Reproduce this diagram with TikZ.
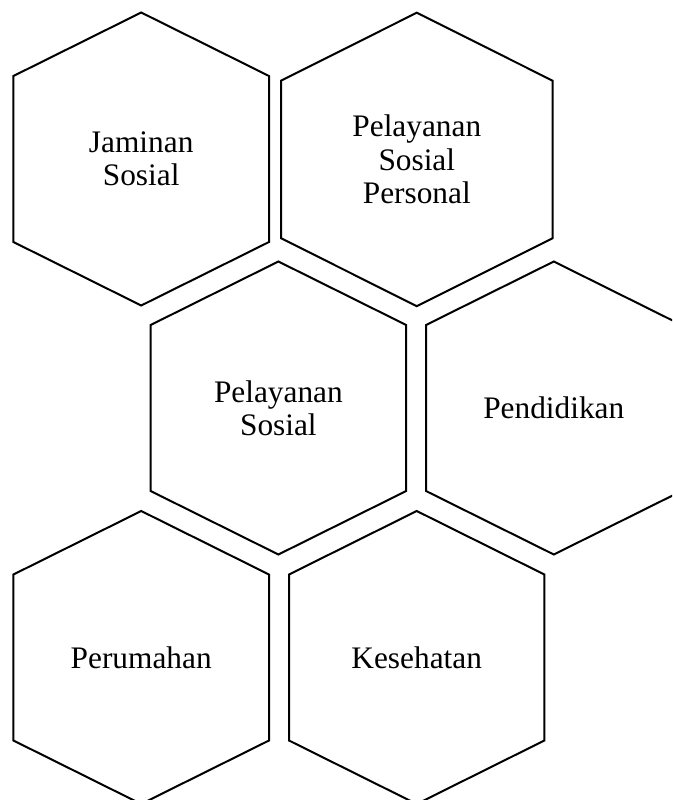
\documentclass[tikz,border=0pt]{standalone}
\usepackage{fontspec}
\setmainfont{Liberation Serif}
\tikzset{
  hexline/.style={draw=black, line width=1.5pt, line join=miter},
  hextext/.style={align=center, inner sep=0pt, font=\fontsize{23.5}{25}\selectfont, text=black}
}
\newcommand{\hexcell}[7]{%
  \draw[hexline] (#2,#3) -- ({#2+#4},{#3+#5}) -- ({#2+#4},{#3+#6-#5}) -- (#2,{#3+#6})
    -- ({#2-#4},{#3+#6-#5}) -- ({#2-#4},{#3+#5}) -- cycle;
  \node[hextext] (#1) at (#2,{#3+#6/2}) {#7};
}
\begin{document}
\begin{tikzpicture}[x=0.75pt, y=-0.75pt]
  \useasboundingbox (0,0) rectangle (672,800);
  \fill[white] (0,0) rectangle (672,800);
  \clip (0,0) rectangle (672,800);
  \hexcell{jaminan}{141.2}{12.5}{127.8}{63.5}{293}{Jaminan\\Sosial}
  \hexcell{personal}{416.8}{12.7}{135.8}{68}{293.5}{Pelayanan\\Sosial\\Personal}
  \hexcell{sosial}{278.4}{261.5}{127.8}{63.5}{293}{Pelayanan\\Sosial}
  \hexcell{pendidikan}{553.8}{261.5}{127.8}{63.5}{293}{Pendidikan}
  \hexcell{perumahan}{141.2}{511}{127.8}{63.5}{293}{Perumahan}
  \hexcell{kesehatan}{416.7}{511}{127.7}{63.5}{293}{Kesehatan}
\end{tikzpicture}
\end{document}
